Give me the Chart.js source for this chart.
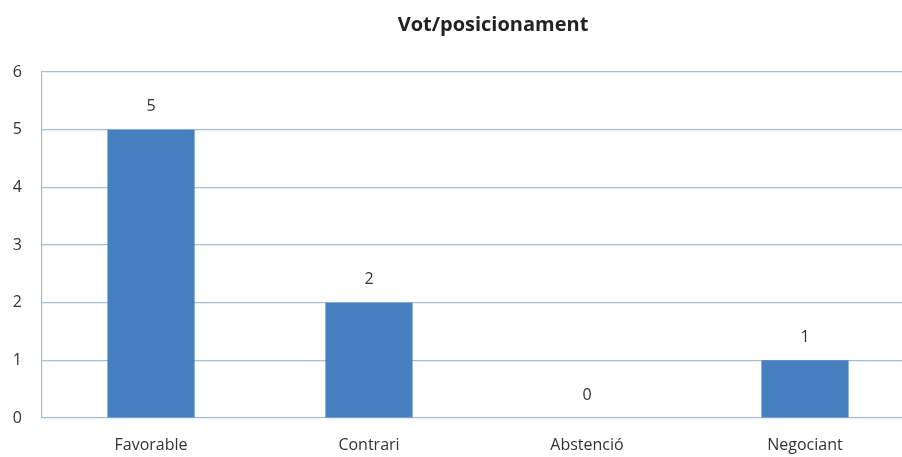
<!DOCTYPE html>
<html>
<head>
<meta charset="utf-8">
<script src="https://cdn.jsdelivr.net/npm/chart.js@4/dist/chart.umd.min.js"></script>
<style>
  html, body { margin: 0; padding: 0; background: #fff; overflow: hidden; }
  #wrap { width: 930px; height: 457px; position: relative; }
</style>
</head>
<body>
<div id="wrap"><canvas id="vot"></canvas></div>
<script>
var chartTitle = "Vot/posicionament";
var categories = ["Favorable", "Contrari", "Abstenció", "Negociant"];
var values = [5, 2, 0, 1];
var yTicks = [0, 1, 2, 3, 4, 5, 6];

var FONT = "'Open Sans', 'Noto Sans', sans-serif";

// value labels above the bars + title (sits a bit right of centre in the original)
var extras = {
  id: 'extras',
  afterDatasetsDraw: function(chart) {
    var ctx = chart.ctx;
    var meta = chart.getDatasetMeta(0);
    ctx.save();
    ctx.font = "16px " + FONT;
    ctx.fillStyle = '#333';
    ctx.textAlign = 'center';
    ctx.textBaseline = 'middle';
    meta.data.forEach(function(bar, i) {
      ctx.fillText(String(values[i]), bar.x, bar.y - 23);
    });
    ctx.font = "bold 20px " + FONT;
    ctx.fillStyle = '#222';
    ctx.fillText(chartTitle, 493, 25);
    ctx.restore();
  }
};

new Chart(document.getElementById("vot"), {
  type: 'bar',
  data: {
    labels: categories,
    datasets: [{
      label: chartTitle,
      data: values,
      backgroundColor: '#4680c0',
      barPercentage: 0.4,
      categoryPercentage: 1
    }]
  },
  options: {
    responsive: true,
    maintainAspectRatio: false,
    animation: false,
    layout: { padding: { left: 0, right: 16, top: 72, bottom: 0 } },
    plugins: {
      legend: { display: false },
      tooltip: { enabled: false },
      title: { display: false }
    },
    scales: {
      x: {
        grid: { display: false },
        border: { display: false },
        ticks: { color: '#333', font: { family: FONT, size: 16 }, padding: 10 },
        afterFit: function(s) { s.height = 39; }
      },
      y: {
        min: 0,
        max: 6,
        afterBuildTicks: function(s) { s.ticks = yTicks.map(function(v) { return { value: v }; }); },
        grid: { color: '#a3bfd8', lineWidth: 1.2, drawTicks: false },
        border: { display: true, color: '#a3bfd8', width: 1.2 },
        ticks: { color: '#333', font: { family: FONT, size: 16 }, padding: 20 },
        afterFit: function(s) { s.width = 42; }
      }
    }
  },
  plugins: [extras]
});
</script>
</body>
</html>
